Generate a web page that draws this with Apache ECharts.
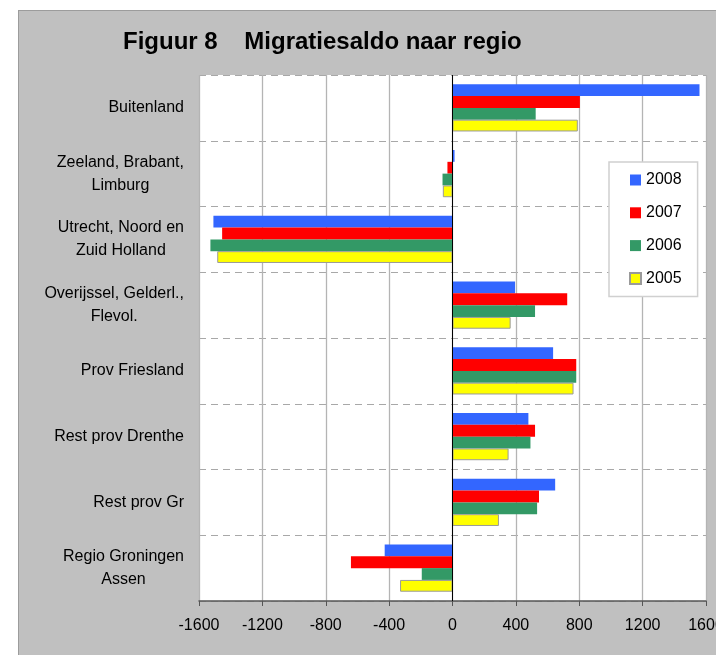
<!DOCTYPE html>
<html>
<head>
<meta charset="utf-8">
<script src="https://cdn.jsdelivr.net/npm/echarts@6/dist/echarts.min.js"></script>
<style>
html,body{margin:0;padding:0;background:#fff;overflow:hidden;width:716px;height:655px;}
#bg{position:absolute;left:18px;top:10px;width:720px;height:660px;background:#c0c0c0;border-left:1px solid #9c9c9c;border-top:1px solid #9c9c9c;}
#chart{position:absolute;left:0;top:0;width:740px;height:655px;}
</style>
</head>
<body>
<div id="bg"></div>
<div id="chart"></div>
<script>
// Data
const categories = [
  'Buitenland',
  'Zeeland, Brabant,\nLimburg',
  'Utrecht, Noord en\nZuid Holland',
  'Overijssel, Gelderl.,\nFlevol.',
  'Prov Friesland',
  'Rest prov Drenthe',
  'Rest prov Gr',
  'Regio Groningen\nAssen'
];
const years = ['2008', '2007', '2006', '2005'];
const values2008 = [1559, 13, -1509, 395, 635, 479, 648, -428];
const values2007 = [804, -32, -1454, 724, 781, 521, 546, -641];
const values2006 = [525, -63, -1528, 521, 781, 492, 534, -194];
const values2005 = [791, -61, -1485, 367, 764, 354, 293, -331];
const xTicks = {min: -1600, max: 1600, interval: 400};

const FONT = '"Liberation Sans", Arial, Helvetica, sans-serif';
const colors = {'2008': '#3366ff', '2007': '#ff0000', '2006': '#339966', '2005': '#ffff00'};

// label blocks: right edge aligned, lines centred inside the block
const LABEL_BOX = 150;
const cv = document.createElement('canvas').getContext('2d');
cv.font = '16px ' + FONT;
const yData = categories.map(c => {
  const w = Math.max.apply(null, c.split('\n').map(l => cv.measureText(l).width));
  return {value: c, textStyle: {
    align: 'center', fontSize: 16, lineHeight: 23, fontFamily: FONT, color: '#000',
    padding: [0, 0, 0, Math.max(0, LABEL_BOX - w)]
  }};
});

const seriesData = {'2008': values2008, '2007': values2007, '2006': values2006, '2005': values2005};

const chart = echarts.init(document.getElementById('chart'), null, {renderer: 'canvas'});
const series = years.map((y, k) => {
  const s = {
    name: y,
    type: 'bar',
    data: seriesData[y],
    barWidth: 11.8,
    barGap: '0%',
    itemStyle: {color: colors[y], borderColor: y === '2005' ? '#9a9a9a' : colors[y], borderWidth: y === '2005' ? 1 : 0},
    emphasis: {disabled: true},
    animation: false
  };
  if (k === 0) {
    s.markLine = {
      silent: true, symbol: ['none', 'none'], label: {show: false},
      lineStyle: {color: '#000', width: 1, type: 'solid'},
      data: [{xAxis: 0}],
      animation: false
    };
  }
  return s;
});

chart.setOption({
  animation: false,
  backgroundColor: 'transparent',
  title: {
    text: 'Figuur 8    Migratiesaldo naar regio',
    left: 123, top: 30, padding: 0,
    textStyle: {fontSize: 24, fontWeight: 'bold', fontFamily: FONT, color: '#000', lineHeight: 24}
  },
  grid: {left: 199, top: 75, width: 507, height: 526, show: true, backgroundColor: '#fff', borderWidth: 0,
         containLabel: false, outerBoundsMode: 'none'},
  legend: {
    orient: 'vertical', left: 609, top: 162,
    padding: [10, 16, 10, 20],
    backgroundColor: '#fff', borderColor: '#d0d0d0', borderWidth: 1.5,
    itemWidth: 11, itemHeight: 11, itemGap: 16.8,
    icon: 'rect',
    data: years,
    textStyle: {fontSize: 16, fontFamily: FONT, color: '#000', lineHeight: 16},
    selectedMode: false
  },
  xAxis: {
    type: 'value', min: xTicks.min, max: xTicks.max, interval: xTicks.interval,
    axisLine: {show: true, onZero: false, lineStyle: {color: '#555', width: 1.5}},
    axisTick: {show: true, length: 5, lineStyle: {color: '#555', width: 1}},
    axisLabel: {fontSize: 16, fontFamily: FONT, color: '#000', margin: 17, formatter: v => String(v)},
    splitLine: {show: true, lineStyle: {color: '#b4b4b4', width: 1.3}}
  },
  yAxis: {
    type: 'category', data: yData, inverse: true,
    axisLine: {show: false}, axisTick: {show: false},
    axisLabel: {
      margin: 199 - (184 - LABEL_BOX / 2), align: 'center', interval: 0,
      fontSize: 16, lineHeight: 23, fontFamily: FONT, color: '#000'
    },
    splitLine: {show: true, interval: 0, lineStyle: {color: '#a8a8a8', width: 1.2, type: [7, 5]}}
  },
  series: series
});
</script>
</body>
</html>
